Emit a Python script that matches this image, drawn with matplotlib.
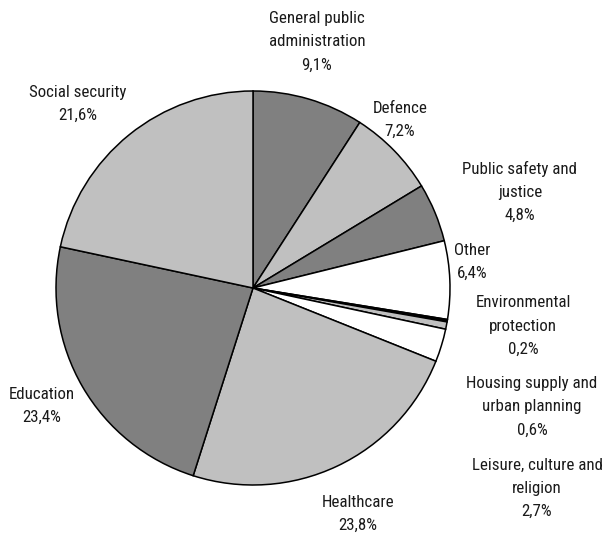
import matplotlib.pyplot as plt

# public spending shares by function (%)
categories = ["General public\nadministration", "Defence", "Public safety and\njustice",
              "Other", "Environmental\nprotection", "Housing supply and\nurban planning",
              "Leisure, culture and\nreligion", "Healthcare", "Education", "Social security"]
shares = [9.1, 7.2, 4.8, 6.4, 0.2, 0.6, 2.7, 23.8, 23.4, 21.6]
colors = ["#808080", "#c0c0c0", "#808080", "#ffffff", "#000000",
          "#c0c0c0", "#ffffff", "#c0c0c0", "#808080", "#c0c0c0"]

# label centres in pixels (x from left, y from top)
label_pos = [(317, 42), (400, 120), (520, 192), (472, 262), (523, 326),
             (532, 407), (537, 488), (358, 514), (42, 406), (78, 104)]

W, H = 606, 536
fig = plt.figure(figsize=(W / 100, H / 100), dpi=100)
ax = fig.add_axes([0, 0, 1, 1])
ax.set_xlim(0, W)
ax.set_ylim(0, H)
ax.set_aspect("equal")
ax.axis("off")

ax.pie(shares, colors=colors, startangle=90, counterclock=False,
       center=(253, H - 288), radius=197,
       wedgeprops=dict(edgecolor="black", linewidth=1.1))

for name, val, (x, y) in zip(categories, shares, label_pos):
    ax.text(x, H - y, f"{name}\n{val:.1f}%".replace(".", ","),
            ha="center", va="center", fontsize=12.2,
            family=["Roboto Condensed", "DejaVu Sans"],
            linespacing=1.68, color="#1a1a1a")

ax.set_xlim(0, W)
ax.set_ylim(0, H)
fig.savefig("out.png", dpi=100)
